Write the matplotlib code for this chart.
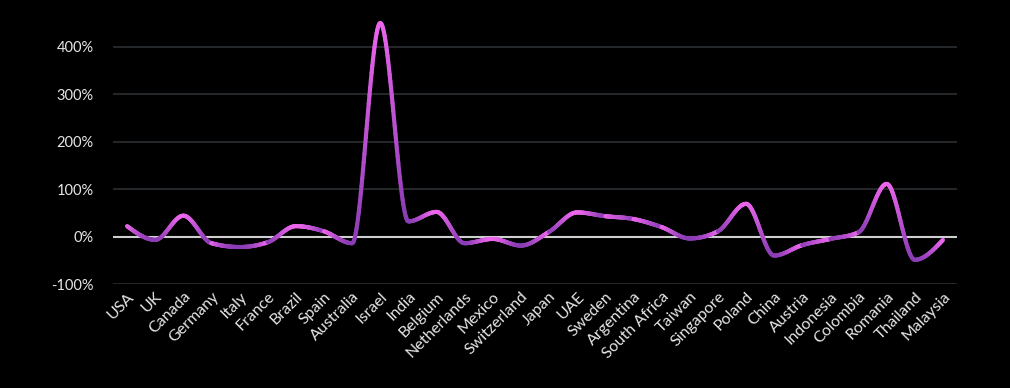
import numpy as np
import matplotlib
matplotlib.use("Agg")
import matplotlib.pyplot as plt
from matplotlib.collections import LineCollection
from matplotlib.colors import to_rgb
from matplotlib.ticker import FuncFormatter

countries = ["USA", "UK", "Canada", "Germany", "Italy", "France", "Brazil", "Spain",
             "Australia", "Israel", "India", "Belgium", "Netherlands", "Mexico",
             "Switzerland", "Japan", "UAE", "Sweden", "Argentina", "South Africa",
             "Taiwan", "Singapore", "Poland", "China", "Austria", "Indonesia",
             "Colombia", "Romania", "Thailand", "Malaysia"]
growth = [22, -7, 44, -14, -22, -12, 22, 11, -14, 450, 32, 52, -14, -5, -19, 10,
          51, 43, 37, 20, -4, 11, 69, -40, -18, -5, 9, 111, -49, -7]
yticks = [-100, 0, 100, 200, 300, 400]

pink = np.array(to_rgb("#ec66ec"))
purple = np.array(to_rgb("#8a3cb4"))

plt.rcParams["font.family"] = ["Lato", "DejaVu Sans"]

fig = plt.figure(figsize=(10.1, 3.88), dpi=100, facecolor="black")
ax = fig.add_axes([113 / 1010, 0.268, 844 / 1010, 0.697])
ax.set_facecolor("black")

x = np.arange(len(countries))
y = np.array(growth, dtype=float)

# monotone cubic tangents (same idea as d3 curveMonotoneX)
d = np.diff(y)
m = np.zeros_like(y)
for i in range(1, len(y) - 1):
    s0, s1 = d[i - 1], d[i]
    p = (s0 + s1) / 2
    m[i] = (np.sign(s0) + np.sign(s1)) * min(abs(s0), abs(s1), 0.5 * abs(p))
m[0] = (3 * d[0] - m[1]) / 2
m[-1] = (3 * d[-1] - m[-2]) / 2

segs, cols = [], []
n = 40
t = np.linspace(0, 1, n)
h00 = 2 * t ** 3 - 3 * t ** 2 + 1
h10 = t ** 3 - 2 * t ** 2 + t
h01 = -2 * t ** 3 + 3 * t ** 2
h11 = t ** 3 - t ** 2
for i in range(len(y) - 1):
    yy = h00 * y[i] + h10 * m[i] + h01 * y[i + 1] + h11 * m[i + 1]
    xx = x[i] + t
    lo, hi = min(y[i], y[i + 1]), max(y[i], y[i + 1])
    span = max(hi - lo, 1e-6)
    for k in range(n - 1):
        segs.append([(xx[k], yy[k]), (xx[k + 1], yy[k + 1])])
        f = np.clip(((yy[k] + yy[k + 1]) / 2 - lo) / span, 0, 1)
        cols.append(purple + (pink - purple) * f)

for v in yticks:
    if v != 0:
        ax.axhline(v, color="#2c2f33", lw=1.2, zorder=1)
ax.axhline(0, color="#cfcfcf", lw=1.5, zorder=2)

lc = LineCollection(segs, colors=cols, linewidths=3, capstyle="round", zorder=3)
ax.add_collection(lc)

ax.set_xlim(-0.5, len(countries) - 0.5)
ax.set_ylim(-100, 470)
ax.set_yticks(yticks)
ax.yaxis.set_major_formatter(FuncFormatter(lambda v, p: f"{v:.0f}%"))
ax.set_xticks(x)
ax.set_xticklabels(countries, rotation=45, ha="right", rotation_mode="anchor")
ax.tick_params(axis="both", colors="#e6e6e6", labelsize=10.5, length=0)
ax.tick_params(axis="x", labelsize=11.5, pad=4)
ax.tick_params(axis="y", pad=14)
for s in ax.spines.values():
    s.set_visible(False)

fig.savefig("out.png", dpi=100, facecolor="black")
